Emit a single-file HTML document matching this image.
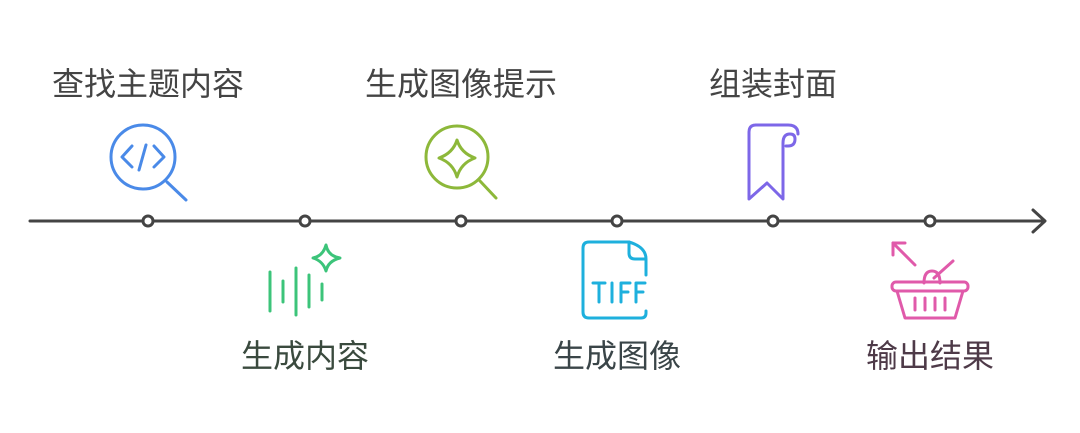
<!DOCTYPE html><html><head><meta charset="utf-8"><style>
body{margin:0;background:#fff;width:1080px;height:433px;overflow:hidden;position:relative;font-family:"Liberation Sans","Noto Sans CJK SC",sans-serif}
.t{position:absolute;font-size:32px;transform:translateX(-50%);white-space:nowrap;line-height:1}
</style></head><body>
<svg width="1080" height="433" style="position:absolute;left:0;top:0" fill="none" stroke-linecap="round" stroke-linejoin="round">
<line x1="30" y1="221" x2="1044" y2="221" stroke="#444" stroke-width="3"/>
<polyline points="1033,210 1045,221 1033,232" stroke="#444" stroke-width="3"/>
<g stroke="#444" stroke-width="3" fill="#fff">
<circle cx="148" cy="221" r="5"/><circle cx="305" cy="221" r="5"/><circle cx="461" cy="221" r="5"/>
<circle cx="617" cy="221" r="5"/><circle cx="773" cy="221" r="5"/><circle cx="930" cy="221" r="5"/></g>
<g stroke="#4a8ae8" stroke-width="3"><circle cx="143" cy="157" r="32"/><line x1="167" y1="182" x2="186" y2="200"/>
<polyline points="132,146 122,157 132,167"/><polyline points="154,146 164,157 154,167"/><line x1="146" y1="145" x2="139" y2="170"/></g>
<g stroke="#8db83a" stroke-width="3"><circle cx="457" cy="157" r="31"/><line x1="480" y1="181" x2="496" y2="198"/>
<path d="M457,140 Q461,153 475,158 Q461,163 457,177 Q453,163 439,158 Q453,153 457,140Z"/></g>
<g stroke="#3cc47a" stroke-width="3"><line x1="270" y1="272" x2="270" y2="311"/><line x1="283" y1="281" x2="283" y2="302"/>
<line x1="296" y1="268" x2="296" y2="315"/><line x1="309" y1="275" x2="309" y2="307"/><line x1="322" y1="284" x2="322" y2="300"/>
<path d="M326,245 Q328,256 340,258 Q328,261 326,271 Q323,261 313,258 Q323,256 326,245Z"/></g>
<g stroke="#1eb0dd" stroke-width="3"><path d="M629,242 H589 Q583,242 583,248 V312 Q583,318 589,318 H641 Q646,318 646,313 V311"/>
<path d="M629,242 V253 Q629,259 635,259 H646 V275 M629,242 Q646,247 646,259"/>
<path d="M593,283 H605 M599,283 V302 M612,283 V302 M621,283 V302 M621,283 H630 M621,292 H628 M636,283 V302 M636,283 H645 M636,292 H643"/></g>
<g stroke="#7d67e8" stroke-width="3"><path d="M779,125 H756 Q749,125 749,132 V199 L767,183 L783,199 V143 Q783,134 790,134 Q795,134 795,139 Q795,146 788,146 H786"/><path d="M756,125 H788 Q798,125 798,134"/></g>
<g stroke="#e05aaa" stroke-width="3"><line x1="893" y1="243" x2="915" y2="265"/><polyline points="893,255 893,243 905,243"/>
<line x1="934" y1="278" x2="953" y2="261"/><path d="M924,283 Q924,271 932,271 Q940,271 940,283"/>
<rect x="892" y="282" width="76" height="9" rx="4"/><path d="M897,291 L905,318 H955 L963,291"/>
<line x1="915" y1="298" x2="915" y2="310"/><line x1="925" y1="298" x2="925" y2="310"/><line x1="935" y1="298" x2="935" y2="310"/><line x1="945" y1="298" x2="945" y2="310"/></g>
</svg>
<div class="t" style="left:148px;top:68px;color:#444">查找主题内容</div>
<div class="t" style="left:461px;top:68px;color:#444">生成图像提示</div>
<div class="t" style="left:773px;top:68px;color:#444">组装封面</div>
<div class="t" style="left:305px;top:340px;color:#3a4a3e">生成内容</div>
<div class="t" style="left:617px;top:340px;color:#3a4548">生成图像</div>
<div class="t" style="left:930px;top:340px;color:#4e3a48">输出结果</div>
</body></html>
